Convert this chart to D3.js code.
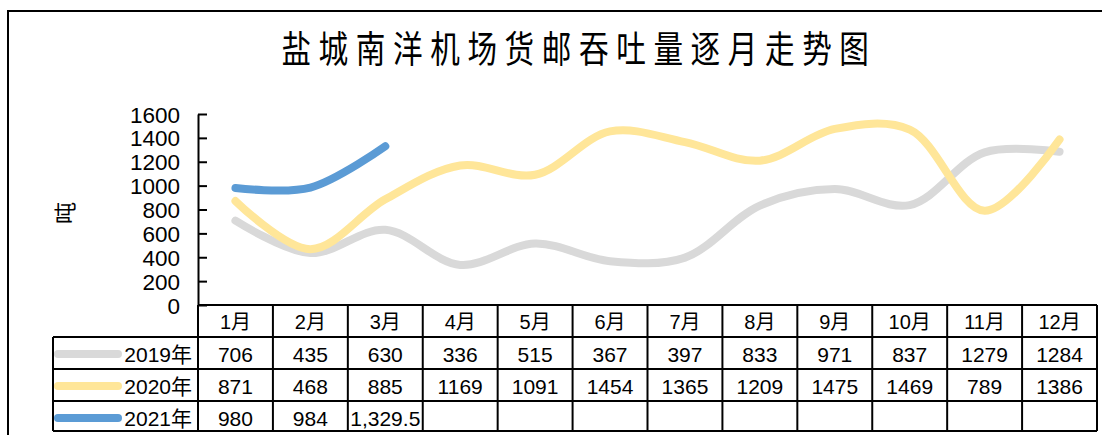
<!DOCTYPE html>
<html>
<head>
<meta charset="utf-8">
<script src="https://cdn.jsdelivr.net/npm/d3@7"></script>
<style>
  body { margin: 0; background: #fff; }
  text { font-family: "Liberation Sans", Arial, "Noto Sans CJK SC", sans-serif; fill: #000; }
</style>
</head>
<body>
<div id="plot"></div>
<script>

// ############ DATA ###############

const months = ["1月", "2月", "3月", "4月", "5月", "6月", "7月", "8月", "9月", "10月", "11月", "12月"];
const seriesNames = ["2019年", "2020年", "2021年"];
const values2019 = [706, 435, 630, 336, 515, 367, 397, 833, 971, 837, 1279, 1284];
const values2020 = [871, 468, 885, 1169, 1091, 1454, 1365, 1209, 1475, 1469, 789, 1386];
const values2021 = [980, 984, 1329.5];
const labels2021 = ["980", "984", "1,329.5"];
const yTicks = [0, 200, 400, 600, 800, 1000, 1200, 1400, 1600];
const colors = ["#d9d9d9", "#ffe699", "#5b9bd5"];

const w = 1102, h = 435;
const plot = {left: 198, right: 1097, top: 114, bottom: 305};
const rowH = 32;
const tableLeft = 53;

const series = [
  {name: seriesNames[0], values: values2019, labels: values2019.map(String)},
  {name: seriesNames[1], values: values2020, labels: values2020.map(String)},
  {name: seriesNames[2], values: values2021, labels: labels2021}
];

// ############ SCALES ###############

const xScale = d3.scaleBand()
  .domain(months)
  .range([plot.left, plot.right]);

const yScale = d3.scaleLinear()
  .domain([0, 1600])
  .range([plot.bottom, plot.top]);

const svg = d3.select("div#plot")
  .append("svg")
  .attr("width", w)
  .attr("height", h);

// outer chart border (right side is cut off)
svg.append("rect")
  .attr("x", 8)
  .attr("y", 11)
  .attr("width", w + 20)
  .attr("height", h + 20)
  .attr("fill", "none")
  .attr("stroke", "#000")
  .attr("stroke-width", 2);

// create title
svg.append("text")
  .attr("transform", "translate(579, 63) scale(0.8, 1)")
  .attr("text-anchor", "middle")
  .style("font-family", "'Noto Sans CJK SC', sans-serif")
  .style("font-size", "37px")
  .style("letter-spacing", "9.5px")
  .text("盐城南洋机场货邮吞吐量逐月走势图");

// create y-axis
const yAxis = d3.axisLeft(yScale)
  .tickValues(yTicks)
  .tickFormat(d3.format("d"))
  .tickSizeInner(-9)
  .tickSizeOuter(0)
  .tickPadding(0);

svg.append("g")
  .attr("id", "yaxis")
  .attr("transform", `translate(${plot.left}, 0)`)
  .call(yAxis)
  .call(g => g.selectAll("path, line").attr("stroke", "#000").attr("stroke-width", 2))
  .call(g => g.selectAll("text")
    .attr("x", -18)
    .attr("dy", "0.36em")
    .style("font-family", "'Liberation Sans', Arial, sans-serif")
    .style("font-size", "22.5px")
    .attr("fill", "#000"));

// create y-axis label
svg.append("text")
  .attr("transform", "translate(65, 213) rotate(-90)")
  .attr("text-anchor", "middle")
  .attr("dy", "0.35em")
  .style("font-family", "'Noto Sans CJK SC', sans-serif")
  .style("font-size", "22px")
  .text("吨");

// create lines
const line = d3.line()
  .x((d, i) => xScale(months[i]) + xScale.bandwidth() / 2)
  .y(d => yScale(d))
  .curve(d3.curveCatmullRom.alpha(0.5));

svg.append("g")
  .attr("id", "lines")
  .selectAll("path")
  .data(series)
  .enter()
  .append("path")
    .attr("d", d => line(d.values))
    .attr("fill", "none")
    .attr("stroke", (d, i) => colors[i])
    .attr("stroke-width", 8)
    .attr("stroke-linecap", "round")
    .attr("stroke-linejoin", "round");

// ############ DATA TABLE ###############

const table = svg.append("g").attr("id", "table");
const bottom = plot.bottom + rowH + series.length * rowH - 2;

// month header
table.selectAll("text.month")
  .data(months)
  .enter()
  .append("text")
    .attr("class", "month")
    .attr("x", d => xScale(d) + xScale.bandwidth() / 2)
    .attr("y", plot.bottom + rowH / 2 + 1)
    .attr("dy", "0.36em")
    .attr("text-anchor", "middle")
    .style("font-size", "20px")
    .text(d => d);

// value rows
series.forEach((s, r) => {
  const cy = plot.bottom + rowH * (r + 1) + rowH / 2 + 1;

  table.append("line")
    .attr("x1", 58).attr("x2", 118)
    .attr("y1", cy).attr("y2", cy)
    .attr("stroke", colors[r])
    .attr("stroke-width", 8)
    .attr("stroke-linecap", "round");

  table.append("text")
    .attr("x", 192)
    .attr("y", cy)
    .attr("dy", "0.36em")
    .attr("text-anchor", "end")
    .style("font-size", "21px")
    .text(s.name);

  table.selectAll(null)
    .data(s.labels)
    .enter()
    .append("text")
      .attr("x", (d, i) => xScale(months[i]) + xScale.bandwidth() / 2)
      .attr("y", cy)
      .attr("dy", "0.36em")
      .attr("text-anchor", "middle")
      .style("font-size", "21px")
      .text(d => d);
});

// horizontal grid lines of the table
const hLines = [plot.bottom + rowH, plot.bottom + 2 * rowH, plot.bottom + 3 * rowH, bottom];
table.selectAll("line.h")
  .data(hLines)
  .enter()
  .append("line")
    .attr("class", "h")
    .attr("x1", tableLeft).attr("x2", plot.right)
    .attr("y1", d => d).attr("y2", d => d)
    .attr("stroke", "#000").attr("stroke-width", 2);

// x-axis line / table top
table.append("line")
  .attr("x1", plot.left).attr("x2", plot.right)
  .attr("y1", plot.bottom).attr("y2", plot.bottom)
  .attr("stroke", "#000").attr("stroke-width", 2);

// vertical lines
const vLines = months.map(m => xScale(m)).concat([plot.right]);
table.selectAll("line.v")
  .data(vLines)
  .enter()
  .append("line")
    .attr("class", "v")
    .attr("x1", d => d).attr("x2", d => d)
    .attr("y1", plot.bottom).attr("y2", bottom)
    .attr("stroke", "#000").attr("stroke-width", 2);

table.append("line")
  .attr("x1", tableLeft).attr("x2", tableLeft)
  .attr("y1", plot.bottom + rowH).attr("y2", bottom)
  .attr("stroke", "#000").attr("stroke-width", 2);

</script>
</body>
</html>
